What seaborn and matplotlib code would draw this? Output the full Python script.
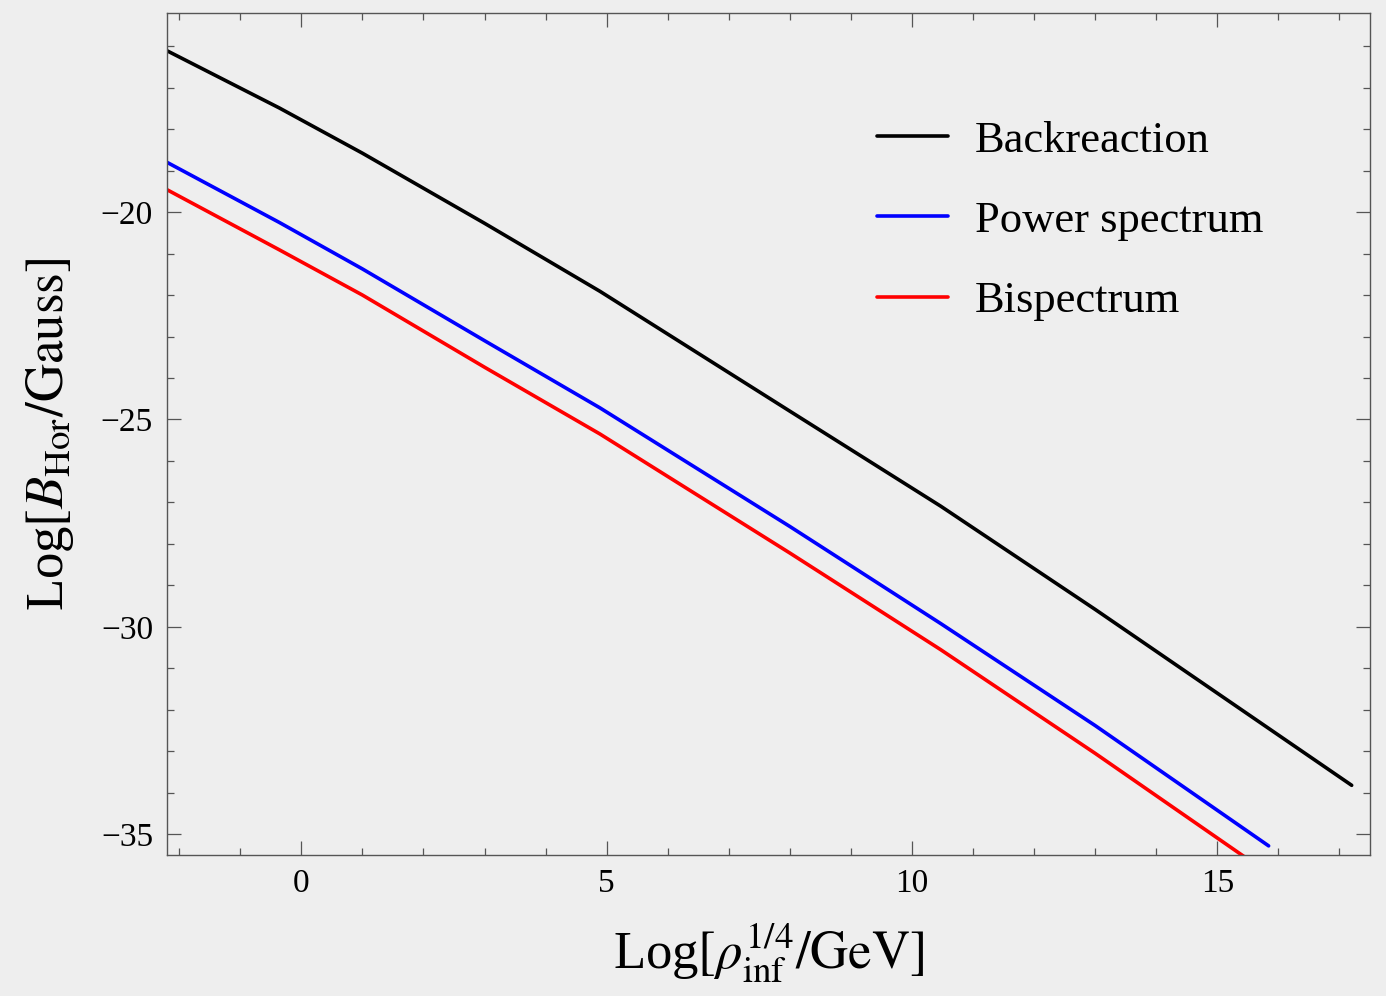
import numpy as np
import pandas as pd
import seaborn as sns
import matplotlib
matplotlib.use("Agg")
import matplotlib.pyplot as plt
from matplotlib.ticker import MultipleLocator

# values
x_back = [-2.2, -0.36, 1.0, 3.0, 4.89, 8.0, 10.47, 13.0, 17.2]
y_back = [-16.11, -17.49, -18.58, -20.27, -21.91, -24.80, -27.09, -29.58, -33.82]

x_pow = [-2.2, -0.36, 1.0, 3.0, 4.89, 8.0, 10.47, 13.0, 15.84]
y_pow = [-18.80, -20.25, -21.37, -23.10, -24.72, -27.58, -29.92, -32.38, -35.28]

x_bis = [-2.2, -0.36, 1.0, 3.0, 4.89, 8.0, 10.47, 13.0, 15.46]
y_bis = [-19.46, -20.91, -22.00, -23.74, -25.35, -28.22, -30.55, -33.05, -35.56]

names = ["Backreaction", "Power spectrum", "Bispectrum"]
colors = ["black", "#0000ff", "#ff0000"]

df = pd.concat([
    pd.DataFrame({"x": x_back, "y": y_back, "curve": names[0]}),
    pd.DataFrame({"x": x_pow, "y": y_pow, "curve": names[1]}),
    pd.DataFrame({"x": x_bis, "y": y_bis, "curve": names[2]}),
])

sns.set_theme(style="ticks")
bg = "#eeeeee"
plt.rcParams["font.family"] = ["Liberation Serif", "DejaVu Serif"]
plt.rcParams["mathtext.fontset"] = "stix"
plt.rcParams["axes.unicode_minus"] = True
plt.rcParams["text.color"] = "black"
plt.rcParams["axes.labelcolor"] = "black"
plt.rcParams["xtick.labelcolor"] = "black"
plt.rcParams["ytick.labelcolor"] = "black"

fig = plt.figure(figsize=(13.86, 9.96), dpi=100, facecolor=bg)
ax = fig.add_axes([167 / 1386, 1 - 855 / 996, (1370 - 167) / 1386, (855 - 13) / 996])
ax.set_facecolor(bg)

sns.lineplot(data=df, x="x", y="y", hue="curve", palette=dict(zip(names, colors)),
             linewidth=2.6, sort=False, ax=ax)

ax.set_xlim(-2.2, 17.5)
ax.set_ylim(-35.5, -15.2)
ax.xaxis.set_major_locator(MultipleLocator(5))
ax.xaxis.set_minor_locator(MultipleLocator(1))
ax.yaxis.set_major_locator(MultipleLocator(5))
ax.yaxis.set_minor_locator(MultipleLocator(1))
ax.tick_params(which="both", direction="in", top=True, right=True, color="#555555", width=0.9)
ax.tick_params(which="major", length=10, labelsize=24, pad=10)
ax.tick_params(which="minor", length=5)
for s in ax.spines.values():
    s.set_color("#555555")
    s.set_linewidth(1.0)

ax.set_xlabel(r"Log$[\rho_{\mathrm{inf}}^{1/4}/\mathrm{GeV}]$", fontsize=38, labelpad=16)
ax.set_ylabel(r"Log$[B_{\mathrm{Hor}}/\mathrm{Gauss}]$", fontsize=38, labelpad=18)

ax.legend(title=None, frameon=False, fontsize=32, loc="upper left",
          bbox_to_anchor=(0.59, 0.872), borderpad=0, borderaxespad=0,
          handlelength=1.6, handletextpad=0.6, labelspacing=0.9)

fig.savefig("out.png", dpi=100, facecolor=bg)
